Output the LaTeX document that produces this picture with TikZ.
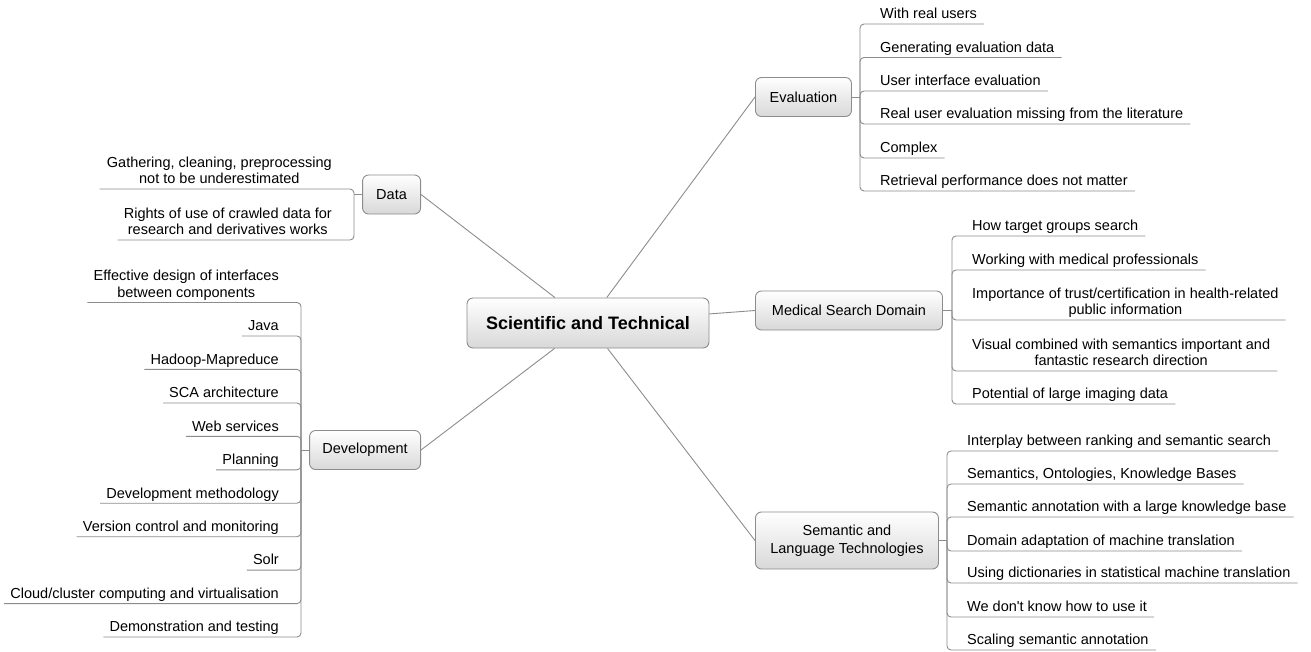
\documentclass[tikz,border=0pt]{standalone}
\usepackage{fontspec}
\setmainfont{Liberation Sans}[Ligatures=TeXOff]
\usepackage{tikz}
\definecolor{linegray}{HTML}{8C8C8C}
\definecolor{boxgray}{HTML}{D8D8D8}

\begin{document}
\begin{tikzpicture}[x=1pt,y=-1pt,
        topic/.style={draw=linegray, line width=0.9pt, rounded corners=6pt, top color=white, bottom color=boxgray, font=\fontsize{14.5}{17.5}\selectfont, align=center, inner xsep=0pt, inner ysep=0pt, minimum height=39pt},
        root/.style={topic, font=\fontsize{18}{21}\selectfont\bfseries, minimum height=50pt},
        leaf/.style={inner sep=0pt, font=\fontsize{14.5}{16.5}\selectfont, align=center, execute at end node=\strut},
        branch/.style={draw=linegray, line width=0.9pt, rounded corners=4pt},
        link/.style={draw=linegray, line width=0.9pt}]
    \useasboundingbox (0,0) rectangle (1311,651);

    % main topics
    \node[root, minimum width=242pt] (sci) at (588,323) {Scientific and Technical};
    \node[topic, minimum width=58pt, anchor=east] (dat) at (421,194.5) {Data};
    \node[topic, minimum width=111pt, anchor=east] (dev) at (421,450) {Development};
    \node[topic, minimum width=96pt, anchor=west] (ev) at (755,97) {Evaluation};
    \node[topic, minimum width=187pt, anchor=west] (med) at (755,310.5) {Medical Search Domain};
    \node[topic, minimum width=183pt, minimum height=57pt, anchor=west] (sem) at (755,540.5) {Semantic and\\Language Technologies};

    \draw[link] (sci) -- (dat.east); \draw[link] (sci) -- (dev.east); \draw[link] (sci) -- (ev.west); \draw[link] (sci) -- (med.west); \draw[link] (sci) -- (sem.west);

    % hubs
    \coordinate (dat-hub) at (354,194.5); \coordinate (dev-hub) at (301,450); \coordinate (ev-hub) at (860,97); \coordinate (med-hub) at (952,310.5); \coordinate (sem-hub) at (947,540.5);
    \draw[link] (dat.west) -- (dat-hub); \draw[link] (dev.west) -- (dev-hub); \draw[link] (ev.east) -- (ev-hub); \draw[link] (med.east) -- (med-hub); \draw[link] (sem.east) -- (sem-hub);

    % Data
    \node[leaf, anchor=south east] (dat1) at (332,189) {Gathering, cleaning, preprocessing\\not to be underestimated};
    \node[leaf, anchor=south east] (dat2) at (332,240) {Rights of use of crawled data for\\research and derivatives works};
    \draw[branch] (dat-hub) |- ([xshift=-7pt]dat1.south west); \draw[branch] (dat-hub) |- ([xshift=-6pt]dat2.south west);

    % Development
    \node[leaf, anchor=south east] (dev1) at (279,302.5) {Effective design of interfaces\\between components};
    \node[leaf, anchor=south east] (dev2) at (279,336) {Java};
    \node[leaf, anchor=south east] (dev3) at (279,369.4) {Hadoop-Mapreduce};
    \node[leaf, anchor=south east] (dev4) at (279,403) {SCA architecture};
    \node[leaf, anchor=south east] (dev5) at (279,436.3) {Web services};
    \node[leaf, anchor=south east] (dev6) at (279,469.8) {Planning};
    \node[leaf, anchor=south east] (dev7) at (279,503.2) {Development methodology};
    \node[leaf, anchor=south east] (dev8) at (279,536.7) {Version control and monitoring};
    \node[leaf, anchor=south east] (dev9) at (279,570.1) {Solr};
    \node[leaf, anchor=south east] (dev10) at (279,603.6) {Cloud/cluster computing and virtualisation};
    \node[leaf, anchor=south east] (dev11) at (279,637) {Demonstration and testing};
    \draw[branch] (dev-hub) |- ([xshift=-6pt]dev1.south west); \draw[branch] (dev-hub) |- ([xshift=-6pt]dev2.south west); \draw[branch] (dev-hub) |- ([xshift=-6pt]dev3.south west); \draw[branch] (dev-hub) |- ([xshift=-6pt]dev4.south west); \draw[branch] (dev-hub) |- ([xshift=-6pt]dev5.south west); \draw[branch] (dev-hub) |- ([xshift=-6pt]dev6.south west);
    \draw[branch] (dev-hub) |- ([xshift=-6pt]dev7.south west); \draw[branch] (dev-hub) |- ([xshift=-6pt]dev8.south west); \draw[branch] (dev-hub) |- ([xshift=-6pt]dev9.south west); \draw[branch] (dev-hub) |- ([xshift=-6pt]dev10.south west); \draw[branch] (dev-hub) |- ([xshift=-6pt]dev11.south west);

    % Evaluation
    \node[leaf, anchor=south west] (ev1) at (880,24) {With real users};
    \node[leaf, anchor=south west] (ev2) at (880,57.5) {Generating evaluation data};
    \node[leaf, anchor=south west] (ev3) at (880,91) {User interface evaluation};
    \node[leaf, anchor=south west] (ev4) at (880,124) {Real user evaluation missing from the literature};
    \node[leaf, anchor=south west] (ev5) at (880,158) {Complex};
    \node[leaf, anchor=south west] (ev6) at (880,191) {Retrieval performance does not matter};
    \draw[branch] (ev-hub) |- ([xshift=7pt]ev1.south east); \draw[branch] (ev-hub) |- ([xshift=7pt]ev2.south east); \draw[branch] (ev-hub) |- ([xshift=7pt]ev3.south east); \draw[branch] (ev-hub) |- ([xshift=7pt]ev4.south east); \draw[branch] (ev-hub) |- ([xshift=7pt]ev5.south east); \draw[branch] (ev-hub) |- ([xshift=7pt]ev6.south east);

    % Medical Search Domain
    \node[leaf, anchor=south west] (med1) at (972,236) {How target groups search};
    \node[leaf, anchor=south west] (med2) at (972,270) {Working with medical professionals};
    \node[leaf, anchor=south west] (med3) at (972,320) {Importance of trust/certification in health-related\\public information};
    \node[leaf, anchor=south west] (med4) at (972,371) {Visual combined with semantics important and\\fantastic research direction};
    \node[leaf, anchor=south west] (med5) at (972,404) {Potential of large imaging data};
    \draw[branch] (med-hub) |- ([xshift=7pt]med1.south east); \draw[branch] (med-hub) |- ([xshift=7pt]med2.south east); \draw[branch] (med-hub) |- ([xshift=7pt]med3.south east); \draw[branch] (med-hub) |- ([xshift=7pt]med4.south east); \draw[branch] (med-hub) |- ([xshift=7pt]med5.south east);

    % Semantic and Language Technologies
    \node[leaf, anchor=south west] (sem1) at (967,451) {Interplay between ranking and semantic search};
    \node[leaf, anchor=south west] (sem2) at (967,484) {Semantics, Ontologies, Knowledge Bases};
    \node[leaf, anchor=south west] (sem3) at (967,517) {Semantic annotation with a large knowledge base};
    \node[leaf, anchor=south west] (sem4) at (967,551) {Domain adaptation of machine translation};
    \node[leaf, anchor=south west] (sem5) at (967,583) {Using dictionaries in statistical machine translation};
    \node[leaf, anchor=south west] (sem6) at (967,617) {We don't know how to use it};
    \node[leaf, anchor=south west] (sem7) at (967,650) {Scaling semantic annotation};
    \draw[branch] (sem-hub) |- ([xshift=7pt]sem1.south east); \draw[branch] (sem-hub) |- ([xshift=7pt]sem2.south east); \draw[branch] (sem-hub) |- ([xshift=7pt]sem3.south east); \draw[branch] (sem-hub) |- ([xshift=7pt]sem4.south east); \draw[branch] (sem-hub) |- ([xshift=7pt]sem5.south east); \draw[branch] (sem-hub) |- ([xshift=7pt]sem6.south east); \draw[branch] (sem-hub) |- ([xshift=7pt]sem7.south east);
\end{tikzpicture}
\end{document}
